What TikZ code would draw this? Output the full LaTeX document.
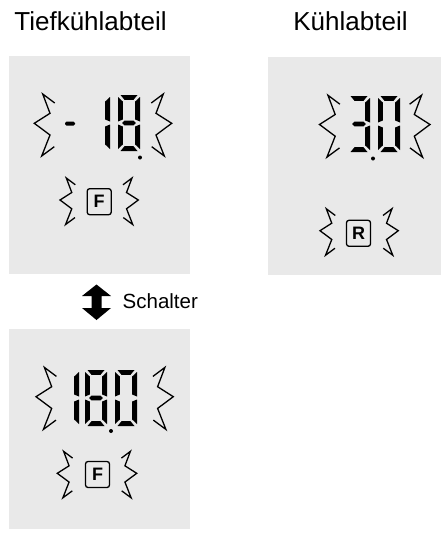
\documentclass[tikz,border=0pt]{standalone}
\usepackage{fontspec}
\setmainfont{Liberation Sans}
\definecolor{panelgray}{RGB}{233,233,233}
\tikzset{
  zigline/.style={draw=black, line width=1.3pt, line join=miter, miter limit=8},
  zig/.pic={\draw[zigline] (20.4,-20.3) -- (8.4,-29.3) -- (15.7,-10) -- (0,0) -- (15.7,11.7) -- (7.4,32.7) -- (20,23.4);},
  panelbox/.style={fill=panelgray, draw=none},
  keybox/.style={draw=black, line width=1.3pt, rounded corners=2.5pt, minimum width=24pt, minimum height=26pt, inner sep=0pt, font=\fontsize{18}{18}\selectfont\bfseries},
  title/.style={anchor=base, inner sep=0pt, font=\fontsize{26}{26}\selectfont},
  seg/.style={fill=black, draw=none}
}
% seven-segment pieces, origin = top-left of the digit (pixel coordinates, y down)
\newcommand\segA[2]{\fill[seg] (#1+2.5,#2) -- (#1+19.5,#2) -- (#1+15.5,#2+4.8) -- (#1+6.5,#2+4.8) -- cycle;}
\newcommand\segD[2]{\fill[seg] (#1+2.5,#2+56) -- (#1+19.5,#2+56) -- (#1+15.5,#2+51.2) -- (#1+6.5,#2+51.2) -- cycle;}
\newcommand\segG[2]{\fill[seg] (#1+4,#2+28) -- (#1+6.5,#2+25.7) -- (#1+15.5,#2+25.7) -- (#1+18,#2+28) -- (#1+15.5,#2+30.3) -- (#1+6.5,#2+30.3) -- cycle;}
\newcommand\segF[2]{\fill[seg] (#1,#2+2) -- (#1+4.8,#2+6.5) -- (#1+4.8,#2+24.5) -- (#1,#2+26.5) -- cycle;}
\newcommand\segE[2]{\fill[seg] (#1,#2+29.5) -- (#1+4.8,#2+31.5) -- (#1+4.8,#2+49.5) -- (#1,#2+54) -- cycle;}
\newcommand\segB[2]{\fill[seg] (#1+22,#2+2) -- (#1+17.2,#2+6.5) -- (#1+17.2,#2+24.5) -- (#1+22,#2+26.5) -- cycle;}
\newcommand\segC[2]{\fill[seg] (#1+22,#2+29.5) -- (#1+17.2,#2+31.5) -- (#1+17.2,#2+49.5) -- (#1+22,#2+54) -- cycle;}
\newcommand\digOne[2]{\segB{#1}{#2}\segC{#1}{#2}}
\newcommand\digEight[2]{\segA{#1}{#2}\segB{#1}{#2}\segC{#1}{#2}\segD{#1}{#2}\segE{#1}{#2}\segF{#1}{#2}\segG{#1}{#2}}
\newcommand\digZero[2]{\segA{#1}{#2}\segB{#1}{#2}\segC{#1}{#2}\segD{#1}{#2}\segE{#1}{#2}\segF{#1}{#2}}
\newcommand\digThree[2]{\segA{#1}{#2}\segB{#1}{#2}\segC{#1}{#2}\segD{#1}{#2}\segG{#1}{#2}}
\begin{document}
\begin{tikzpicture}[x=1pt, y=-1pt]
\useasboundingbox (0,0) rectangle (441,539);
% titles
\node[title] (t1) at (90.5,30) {Tiefkühlabteil};
\node[title] (t2) at (350.5,30) {Kühlabteil};
% panels
\fill[panelbox] (9,56) rectangle (190,274);
\fill[panelbox] (268,57) rectangle (441,275);
\fill[panelbox] (9,329) rectangle (189.5,529);
% ---------- panel 1 : - 18.
\pic at (34.3,123.3) {zig};
\pic[xscale=-1] at (171.7,123.3) {zig};
\fill[seg, rounded corners=1.5pt] (65,121.5) rectangle (75,125.5);
\digOne{88}{95}
\digEight{118}{95}
\fill[seg] (140,157.5) circle (2pt);
\pic[scale=0.75] at (60,200) {zig};
\pic[xscale=-1, scale=0.75] at (138.3,200) {zig};
\node[keybox] (f1) at (99.2,201.7) {F};
% ---------- panel 2 : 3.0
\pic at (319.5,124.5) {zig};
\pic[xscale=-1] at (430,124.5) {zig};
\digThree{348}{96}
\digZero{378}{96}
\fill[seg] (373,158.5) circle (2pt);
\pic[scale=0.75] at (320,230.7) {zig};
\pic[xscale=-1, scale=0.75] at (398.3,230.7) {zig};
\node[keybox] (r2) at (358.5,233.3) {R};
% ---------- switch arrow
\fill[black] (96.5,284.5) -- (111,296) -- (101.5,296) -- (101.5,308) -- (111,308) -- (96.5,320)
  -- (82,308) -- (91.5,308) -- (91.5,296) -- (82,296) -- cycle;
\node[anchor=base west, inner sep=0pt, font=\fontsize{20.5}{20.5}\selectfont] (sw) at (122.5,308) {Schalter};
% ---------- panel 3 : 18.0
\pic at (36,396.7) {zig};
\pic[xscale=-1] at (173.3,396.7) {zig};
\digOne{57}{370}
\digEight{85}{370}
\digZero{115}{370}
\fill[seg] (111,431) circle (2pt);
\pic[scale=0.75] at (57.3,473.3) {zig};
\pic[xscale=-1, scale=0.75] at (136.7,473.3) {zig};
\node[keybox] (f3) at (97.5,474.5) {F};
\end{tikzpicture}
\end{document}
